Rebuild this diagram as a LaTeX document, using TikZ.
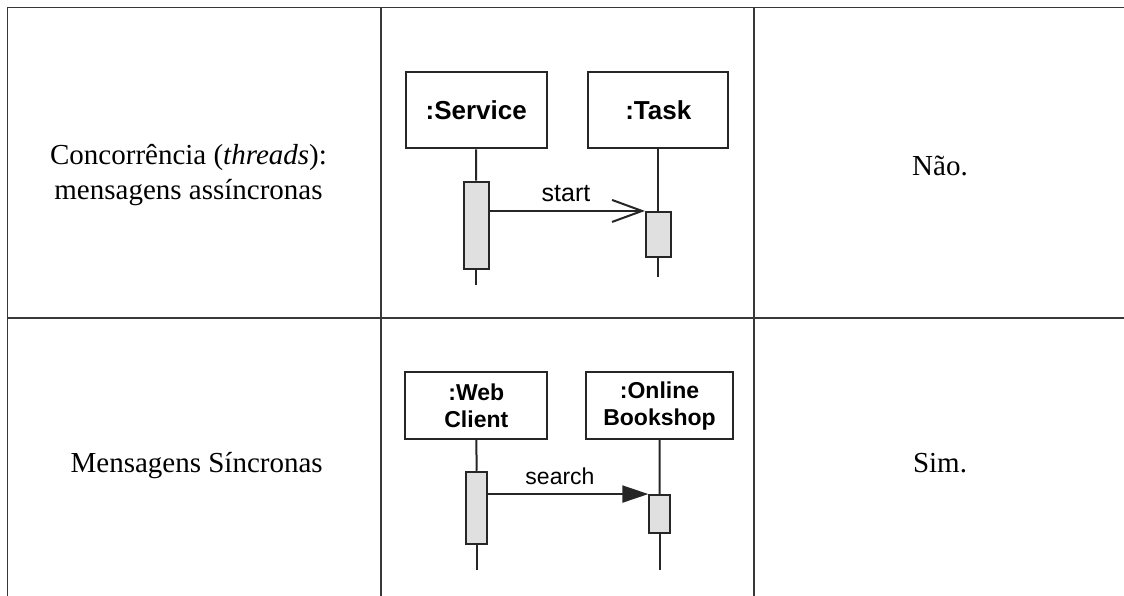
\documentclass[tikz,border=0pt]{standalone}
\usepackage{fontspec}
\setmainfont{Liberation Serif}
\newfontfamily\diagfont{Liberation Sans}
\usetikzlibrary{arrows.meta}
\begin{document}
\begin{tikzpicture}[x=1pt,y=-1pt,
  tline/.style={line width=1.3pt, draw=black!78},
  cell/.style={font=\fontsize{29}{35}\selectfont, inner sep=0pt, align=center},
  obj/.style={draw=black!85, line width=2pt, fill=white, inner sep=0pt, align=center},
  objA/.style={obj, font=\diagfont\bfseries\fontsize{26}{30}\selectfont},
  objB/.style={obj, font=\diagfont\bfseries\fontsize{23}{27}\selectfont},
  act/.style={draw=black!85, line width=2pt, fill=black!12, inner sep=0pt},
  life/.style={draw=black!85, line width=2pt},
  msgA/.style={font=\diagfont\fontsize{25}{30}\selectfont, inner sep=0pt, anchor=base},
  msgB/.style={font=\diagfont\fontsize{23}{27}\selectfont, inner sep=0pt, anchor=base},
  async/.style={life, -{Straight Barb[length=30pt,width=22pt,line width=2pt]}},
  sync/.style={life, -{Triangle[length=26pt,width=17pt]}}
]
\useasboundingbox (0,0) rectangle (1124,596);

% table grid
\coordinate (tl) at (7.5,7.5);
\coordinate (tr) at (1124,7.5);
\coordinate (bl) at (7.5,596);
\coordinate (c1t) at (381,7.5);
\coordinate (c1b) at (381,596);
\coordinate (c2t) at (754,7.5);
\coordinate (c2b) at (754,596);
\coordinate (ml) at (7.5,318);
\coordinate (mr) at (1124,318);
\draw[tline] (tl) -- (tr);
\draw[tline] (ml) -- (mr);
\draw[tline] (tl) -- (bl);
\draw[tline] (c1t) -- (c1b);
\draw[tline] (c2t) -- (c2b);

% table texts
\node[cell] (conc) at (188.5,175) {Concorrência (\textit{threads}):\\mensagens assíncronas};
\node[cell, anchor=base] (nao) at (940,176) {Não.};
\node[cell, anchor=base] (sinc) at (196.7,472) {Mensagens Síncronas};
\node[cell, anchor=base] (sim) at (940,472) {Sim.};

% diagram 1
\node[objA, minimum width=141pt, minimum height=76pt] (svc) at (476.2,110.3) {:Service};
\node[objA, minimum width=140pt, minimum height=76pt] (task) at (658.3,110.3) {:Task};
\node[act, minimum width=25pt, minimum height=87.6pt] (svcact) at (476,225.5) {};
\node[act, minimum width=24.7pt, minimum height=44.7pt] (taskact) at (658.3,234.3) {};
\coordinate (svcend) at (476,285);
\coordinate (taskend) at (658.3,277);
\draw[life] (svc.south) -- (svcact.north);
\draw[life] (svcact.south) -- (svcend);
\draw[life] (task.south) -- (taskact.north);
\draw[life] (taskact.south) -- (taskend);
\draw[async] (taskact.north west -| svcact.east) -- (taskact.north west);
\node[msgA] (start) at (566,201) {start};

% diagram 2
\node[objB, minimum width=142pt, minimum height=66.7pt] (web) at (476.3,405.7) {:Web\\Client};
\node[objB, minimum width=147.6pt, minimum height=66.7pt] (shop) at (659.5,405.7) {:Online\\Bookshop};
\node[act, minimum width=21.3pt, minimum height=72.3pt] (webact) at (476.7,507.9) {};
\node[act, minimum width=20.7pt, minimum height=38.3pt] (shopact) at (659.7,514.2) {};
\coordinate (webend) at (476.7,570);
\coordinate (shopend) at (659.7,570);
\draw[life] (web.south) -- (webact.north);
\draw[life] (webact.south) -- (webend);
\draw[life] (shop.south) -- (shopact.north);
\draw[life] (shopact.south) -- (shopend);
\draw[sync] (shopact.north west -| webact.east) -- (shopact.north west);
\node[msgB] (search) at (560,484.3) {search};
\end{tikzpicture}
\end{document}
